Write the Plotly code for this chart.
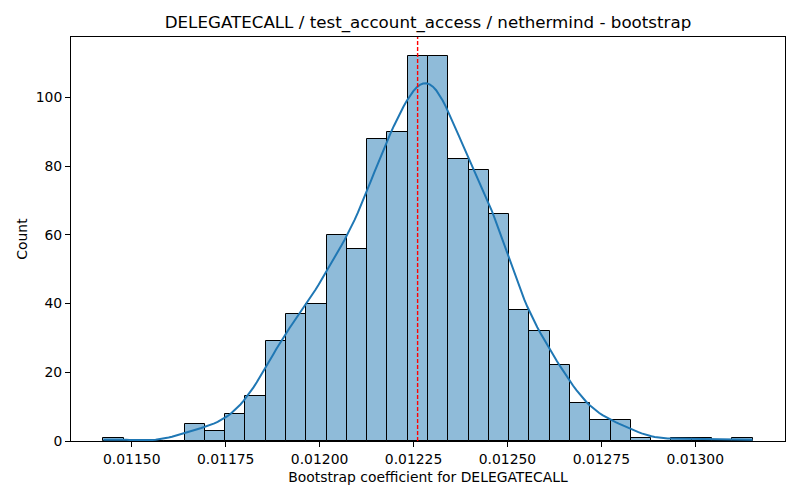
import numpy as np
import plotly.graph_objects as go

# ---- data ----
bin_start = 0.0114247
bin_end = 0.0131524
counts = [1, 0, 0, 0, 5, 3, 8, 13, 29, 37, 40, 60, 56, 88, 90, 112,
          112, 82, 79, 66, 38, 32, 22, 11, 6, 6, 1, 0, 1, 1, 0, 1]
ref_value = 0.0122609
x_ticks = [0.01150, 0.01175, 0.01200, 0.01225, 0.01250, 0.01275, 0.01300]
y_ticks = [0, 20, 40, 60, 80, 100]
title = "DELEGATECALL / test_account_access / nethermind - bootstrap"
x_label = "Bootstrap coefficient for DELEGATECALL"
y_label = "Count"

n_bins = len(counts)
edges = np.linspace(bin_start, bin_end, n_bins + 1)
centers = (edges[:-1] + edges[1:]) / 2
bw = edges[1] - edges[0]
w = np.array(counts, dtype=float)
n = w.sum()

# KDE (Scott bandwidth) estimated from the binned counts, scaled to counts
mean = np.sum(w * centers) / n
std = np.sqrt(np.sum(w * (centers - mean) ** 2) / n)
h = std * n ** (-1 / 5)
grid = np.linspace(bin_start, bin_end, 200)
dens = np.sum(w[None, :] * np.exp(-0.5 * ((grid[:, None] - centers[None, :]) / h) ** 2), axis=1) / (n * h * np.sqrt(2 * np.pi))
kde = dens * n * bw

font = "DejaVu Sans"
fig = go.Figure()
fig.add_trace(go.Bar(
    x=centers, y=counts, width=bw,
    marker=dict(color="rgba(31,119,180,0.5)", line=dict(color="black", width=1)),
    hoverinfo="x+y", showlegend=False,
))
fig.add_trace(go.Scatter(
    x=grid, y=kde, mode="lines",
    line=dict(color="#1f77b4", width=2), showlegend=False,
))
fig.add_shape(type="line", xref="x", yref="paper", x0=ref_value, x1=ref_value, y0=0, y1=1,
              layer="above", line=dict(color="red", width=1.4, dash="4px,2px"))

fig.update_layout(
    width=800, height=500,
    margin=dict(l=71, r=15, t=37, b=59),
    paper_bgcolor="white", plot_bgcolor="white",
    bargap=0,
    font=dict(family=font, size=14, color="black"),
    title=dict(text=title, x=0.535, xanchor="center", y=0.956, yanchor="middle",
               font=dict(family=font, size=16.7, color="black")),
)
fig.update_xaxes(
    range=[0.0113383, 0.0132388], tickvals=x_ticks, tickformat=".5f",
    showline=True, linecolor="black", linewidth=1, mirror=True,
    ticks="outside", ticklen=5, tickcolor="black", showgrid=False, zeroline=False,
    title=dict(text=x_label, font=dict(family=font, size=13.9), standoff=6),
    tickfont=dict(family=font, size=13.9),
)
fig.update_yaxes(
    range=[0, 117.6], tickvals=y_ticks,
    showline=True, linecolor="black", linewidth=1, mirror=True,
    ticks="outside", ticklen=5, tickcolor="black", showgrid=False, zeroline=False,
    title=dict(text=y_label, font=dict(family=font, size=13.9), standoff=4),
    tickfont=dict(family=font, size=13.9),
)
fig.write_html("out.html", config={"displayModeBar": False},
               post_script="document.body.style.margin='0';")
